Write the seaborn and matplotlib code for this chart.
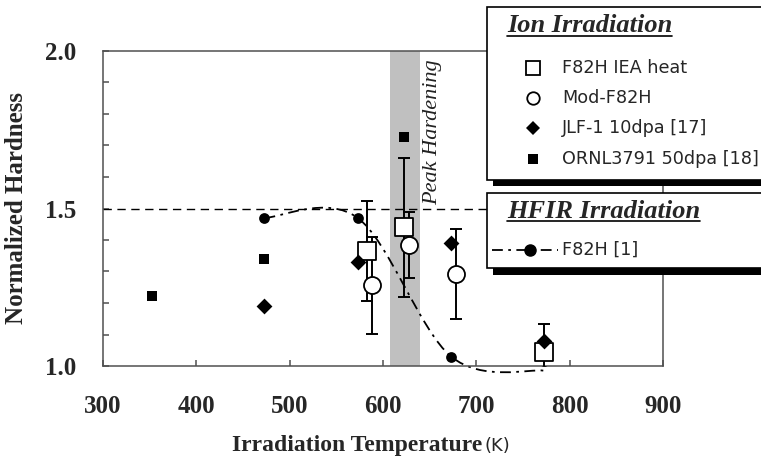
import numpy as np
import matplotlib
matplotlib.use("Agg")
import matplotlib.pyplot as plt
from matplotlib.path import Path
from matplotlib.patches import PathPatch, Rectangle
from matplotlib.lines import Line2D
import seaborn as sns

# ── Data ─────────────────────────────────────────────────────────────────────
hfir_temp = [473, 573, 673, 773]
hfir_hard = [1.47, 1.47, 1.03, 0.985]

iea_temp = [583, 622, 772]
iea_hard = [1.365, 1.44, 1.045]
iea_err = [0.16, 0.22, 0.088]

mod_temp = [588, 628, 678]
mod_hard = [1.256, 1.385, 1.292]
mod_err = [0.153, 0.105, 0.144]

jlf_temp = [473, 573, 673, 773]
jlf_hard = [1.19, 1.33, 1.39, 1.08]

ornl_temp = [353, 473, 623]
ornl_hard = [1.222, 1.341, 1.726]

peak_band = [608, 640]
ref_level = 1.5

ion_labels = ["F82H IEA heat", "Mod-F82H", "JLF-1 10dpa [17]", "ORNL3791 50dpa [18]"]
hfir_label = "F82H [1]"

# ── Style ────────────────────────────────────────────────────────────────────
sns.set_theme(style="ticks")
plt.rcParams["font.family"] = ["Liberation Serif", "DejaVu Serif"]
SPINE = "#505050"
DASHDOT = (0, (6, 3, 1.5, 3))

W, H = 761, 459
fig = plt.figure(figsize=(W / 100, H / 100), dpi=100)
ax = fig.add_axes([103 / W, 93 / H, 560 / W, 315 / H])

# peak hardening band + reference line
ax.axvspan(*peak_band, color="#c0c0c0", lw=0, zorder=0)
ax.axhline(ref_level, color="black", lw=1.0, dashes=(6, 4), zorder=1)
ax.text(653, 1.51, "Peak Hardening", rotation=90, ha="center", va="bottom",
        fontsize=16, fontstyle="italic", color="#222222", clip_on=False)

# HFIR smoothed line (Excel-style smoothing through the points)
pts = np.column_stack([hfir_temp, hfir_hard])
verts, codes = [pts[0]], [Path.MOVETO]
n = len(pts)
for i in range(n - 1):
    p_prev = pts[i - 1] if i > 0 else pts[i]
    p_next = pts[i + 2] if i + 2 < n else pts[i + 1]
    c1 = pts[i] + (pts[i + 1] - p_prev) / 6
    c2 = pts[i + 1] - (p_next - pts[i]) / 6
    verts += [c1, c2, pts[i + 1]]
    codes += [Path.CURVE4] * 3
ax.add_patch(PathPatch(Path(verts, codes), fc="none", ec="black", lw=1.3,
                       linestyle=DASHDOT, clip_on=False, zorder=2))
sns.scatterplot(x=hfir_temp, y=hfir_hard, marker="o", s=60, color="black",
                edgecolor="black", linewidth=0, ax=ax, zorder=3)

# error bars (behind markers)
for t, v, e in [(iea_temp, iea_hard, iea_err), (mod_temp, mod_hard, mod_err)]:
    ax.errorbar(t, v, yerr=e, fmt="none", ecolor="black", elinewidth=1.4,
                capsize=4, capthick=1.4, zorder=3)

sns.scatterplot(x=ornl_temp, y=ornl_hard, marker="s", s=62, color="black",
                edgecolor="black", linewidth=0, ax=ax, zorder=4)
sns.scatterplot(x=iea_temp, y=iea_hard, marker="s", s=150, color="white",
                edgecolor="black", linewidth=1.3, ax=ax, zorder=5)
sns.scatterplot(x=mod_temp, y=mod_hard, marker="o", s=150, color="white",
                edgecolor="black", linewidth=1.3, ax=ax, zorder=5)
sns.scatterplot(x=jlf_temp, y=jlf_hard, marker="D", s=65, color="black",
                edgecolor="black", linewidth=0, ax=ax, zorder=6)

# axes
ax.set_xlim(300, 900)
ax.set_ylim(1.0, 2.0)
ax.set_xticks(np.arange(300, 901, 100))
ax.set_yticks([1.0, 1.5, 2.0])
ax.set_yticks(np.arange(1.1, 2.0, 0.1), minor=True)
ax.yaxis.set_major_formatter(matplotlib.ticker.FormatStrFormatter("%.1f"))
ax.tick_params(axis="x", direction="in", length=4, width=1.1, color=SPINE,
               pad=21, labelsize=18)
ax.tick_params(axis="y", which="both", direction="in", length=4, width=1.1,
               color=SPINE, pad=19, labelsize=18)
for lab in ax.get_xticklabels() + ax.get_yticklabels():
    lab.set_fontweight("bold")
for sp in ax.spines.values():
    sp.set_color(SPINE)
    sp.set_linewidth(1.1)
ax.set_ylabel("Normalized Hardness", fontsize=18, fontweight="bold")
ax.yaxis.set_label_coords(-0.134, 0.5)
ax.set_xlabel("")
fig.text(482 / W, 1 - 451 / H, "Irradiation Temperature", ha="right",
         va="baseline", fontsize=17, fontweight="bold")
fig.text(485 / W, 1 - 451 / H, "(K)", ha="left", va="baseline", fontsize=13,
         family=["DejaVu Sans"])

# ── Legend boxes (drawn in figure pixels) ────────────────────────────────────
def px(x, y):
    return x / W, 1 - y / H

def box(x0, y0, x1, y1, **kw):
    r = Rectangle((x0 / W, 1 - y1 / H), (x1 - x0) / W, (y1 - y0) / H,
                  transform=fig.transFigure, **kw)
    fig.add_artist(r)

box(493, 14, 790, 186, fc="black", ec="none", zorder=10)
box(487, 7, 785, 180, fc="white", ec="black", lw=1.2, zorder=11)
box(493, 200, 790, 275, fc="black", ec="none", zorder=10)
box(487, 193, 785, 268, fc="white", ec="black", lw=1.2, zorder=11)

def title(x, y, s):
    t = fig.text(*px(x, y), s, ha="left", va="center", fontsize=19,
                 fontweight="bold", fontstyle="italic", zorder=12)
    fig.canvas.draw()
    bb = t.get_window_extent()
    fig.add_artist(Line2D([bb.x0 / W, bb.x1 / W], [(bb.y0 + 2) / H] * 2,
                          color="black", lw=1.2, transform=fig.transFigure,
                          zorder=12))

title(507, 26, "Ion Irradiation")
title(507, 211, "HFIR Irradiation")

ion_styles = [
    dict(marker="s", ms=9.5, mfc="white", mec="black", mew=1.3),
    dict(marker="o", ms=9, mfc="white", mec="black", mew=1.3),
    dict(marker="D", ms=7, mfc="black", mec="black", mew=0),
    dict(marker="s", ms=7.5, mfc="black", mec="black", mew=0),
]
ion_rows = [68, 98, 128, 159]
for lab, sty, yy in zip(ion_labels, ion_styles, ion_rows):
    fig.add_artist(Line2D([533 / W], [1 - yy / H], ls="none",
                          transform=fig.transFigure, zorder=12, **sty))
    fig.text(*px(562, yy), lab, ha="left", va="center", fontsize=12.7,
             family=["DejaVu Sans"], zorder=12)

fig.add_artist(Line2D([492 / W, 558 / W], [1 - 250 / H] * 2, color="black",
                      lw=1.3, linestyle=DASHDOT,
                      transform=fig.transFigure, zorder=12))
fig.add_artist(Line2D([530 / W], [1 - 250 / H], ls="none", marker="o", ms=8,
                      mfc="black", mec="black", transform=fig.transFigure,
                      zorder=12))
fig.text(*px(562, 250), hfir_label, ha="left", va="center", fontsize=12.7,
         family=["DejaVu Sans"], zorder=12)

fig.savefig("out.png", dpi=100)
